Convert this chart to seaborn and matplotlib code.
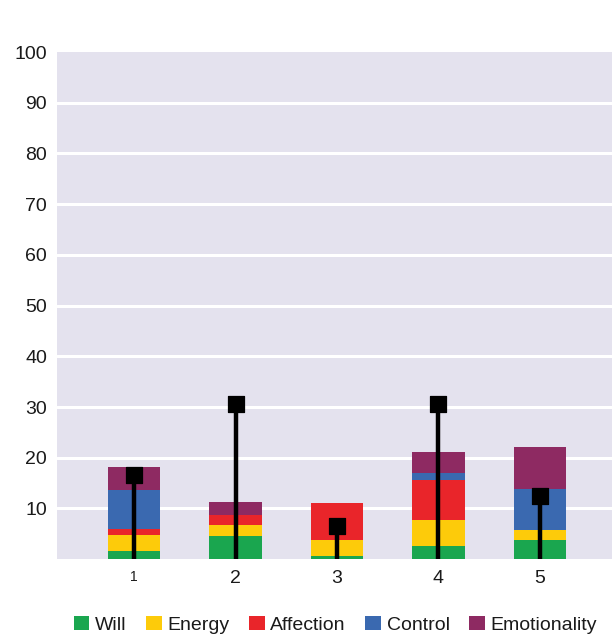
import numpy as np
import pandas as pd
import matplotlib
matplotlib.use("Agg")
import matplotlib.pyplot as plt
from matplotlib.patches import Patch
import seaborn as sns

groups = ["1", "2", "3", "4", "5"]
will = [1.6, 4.6, 0.7, 2.6, 3.7]
energy = [3.1, 2.1, 3.0, 5.1, 2.0]
affection = [1.3, 2.0, 7.4, 7.9, 0.0]
control = [7.7, 0.0, 0.0, 1.3, 8.1]
emotionality = [4.5, 2.5, 0.0, 4.3, 8.4]
marker_vals = [16.5, 30.5, 6.5, 30.5, 12.5]

series_names = ["Will", "Energy", "Affection", "Control", "Emotionality"]
series_vals = [will, energy, affection, control, emotionality]
colors = ["#1aa64f", "#fdcb0a", "#e9252a", "#3a69b0", "#8e2a62"]

sns.set_theme(style="darkgrid", rc={"axes.facecolor": "#e4e2ee",
                                   "grid.color": "white", "grid.linewidth": 2.2})
plt.rcParams["font.family"] = ["Liberation Sans", "DejaVu Sans"]

fig = plt.figure(figsize=(6.12, 6.42), dpi=100)
ax = fig.add_axes([0.093, 0.129, 0.907, 0.790])

# stacked bars: draw cumulative totals from the top layer down
cum = np.cumsum(np.array(series_vals), axis=0)
for i in range(len(series_names) - 1, -1, -1):
    df = pd.DataFrame({"grp": groups, "val": cum[i]})
    sns.barplot(data=df, x="grp", y="val", color=colors[i], width=0.52,
                saturation=1, linewidth=0, edgecolor="none", ax=ax, zorder=2)

# stems with square markers
ax.vlines(range(len(groups)), 0, marker_vals, color="black", lw=3.2, zorder=4)
sns.scatterplot(x=range(len(groups)), y=marker_vals, marker="s", s=125,
                color="black", edgecolor="black", zorder=5, ax=ax)

ax.set_ylim(0, 100)
ax.set_xlim(-0.76, 4.71)
ax.set_yticks(range(10, 101, 10))
ax.set_xlabel("")
ax.set_ylabel("")
ax.tick_params(axis="y", labelsize=14, pad=7, length=0, labelcolor="#1a1a1a")
ax.tick_params(axis="x", labelsize=14, pad=8, length=0, labelcolor="#1a1a1a")
ax.grid(axis="x", visible=False)
ax.yaxis.get_gridlines()[-1].set_visible(False)
ax.get_xticklabels()[0].set_fontsize(10)
for s in ax.spines.values():
    s.set_visible(False)

handles = [Patch(facecolor=c, edgecolor="none") for c in colors]
fig.legend(handles, series_names, loc="center", bbox_to_anchor=(0.548, 0.027),
           ncol=5, frameon=False, fontsize=14, handlelength=0.8,
           handleheight=0.8, handletextpad=0.3, columnspacing=1.0,
           labelcolor="#1a1a1a")

fig.savefig("out.png", dpi=100, facecolor="white")
